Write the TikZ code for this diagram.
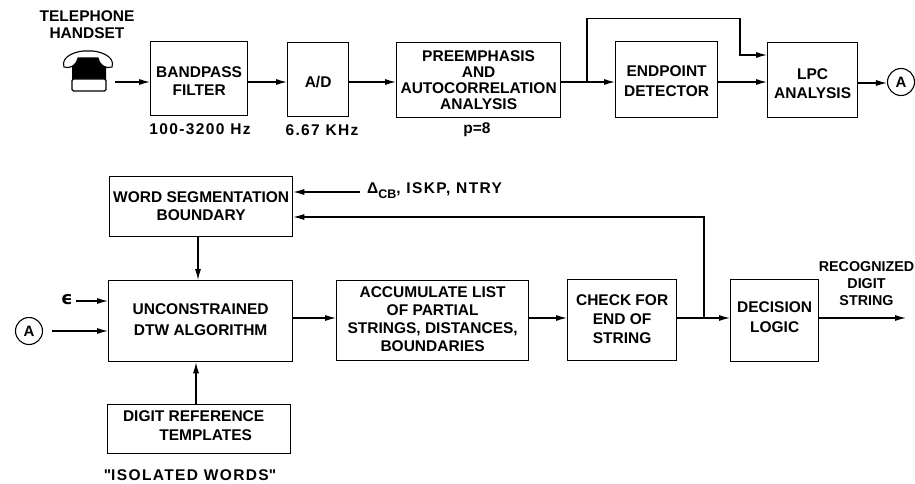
\documentclass[tikz,border=0pt]{standalone}
\usepackage{fontspec}
\setmainfont{Liberation Sans}
\newfontfamily\widef[LetterSpace=9]{Liberation Sans}
\newfontfamily\plainf{Liberation Sans}
\newfontfamily\symf{DejaVu Sans}
\usetikzlibrary{arrows.meta}
\tikzset{x=1pt,y=-1pt,
 box/.style={draw=black,line width=1.3pt,inner sep=0pt,anchor=north west},
 lab/.style={inner sep=0pt,align=center,font=\fontsize{15.5}{17}\selectfont\bfseries},
 circ/.style={draw=black,circle,line width=1.1pt,minimum size=27pt,inner sep=0pt,font=\fontsize{15}{17}\selectfont\bfseries},
 conn/.style={line width=1.1pt,-{Latex[length=11pt,width=6pt]}},
 plainconn/.style={line width=1.1pt}}
% name, x1, y1, x2, y2, leading, downward text offset, text
\newcommand{\blk}[8]{\node[box,minimum width=#4pt-#2pt,minimum height=#5pt-#3pt,font=\fontsize{15.5}{#6pt}\selectfont\bfseries] (#1) at (#2,#3) {\raisebox{\dimexpr-3.9pt-#7pt\relax}[0pt][0pt]{\begin{tabular}{@{}c@{}}#8\end{tabular}}};}
\begin{document}
\begin{tikzpicture}
\useasboundingbox (0,0) rectangle (915,484);
\blk{bp}{150}{41}{247}{115}{18}{4}{BANDPASS\\FILTER}
\blk{ad}{287}{42}{348}{116}{18}{4}{A/D}
\blk{pre}{396}{42}{560}{117}{16}{1.5}{PREEMPHASIS\\AND\\AUTOCORRELATION\\ANALYSIS}
\blk{ep}{615}{41}{717}{117}{20}{3}{ENDPOINT\\DETECTOR}
\blk{lpc}{767}{42}{857}{117}{19}{5}{LPC\\ANALYSIS}
\node[circ] (a1) at (901,82) {A};
\node[lab] (tel) at (87,25) {TELEPHONE\\HANDSET};
\node[lab] (l1) at (200,129) {\widef 100-3200 Hz};
\node[lab] (l2) at (322,130) {\widef 6.67 KHz};
\node[lab] (l3) at (477,130) {p=8};
% telephone
\fill (72,80) -- (72,66) -- (80,55) -- (98,55) -- (106,66) -- (106,80) -- cycle;
\draw[line width=1.2pt,fill=white,rounded corners=1.5pt] (72,79) rectangle (106,91);
\draw[line width=1.1pt,fill=white] (64,67) .. controls (60,56) and (78,50) .. (88,51) .. controls (98,50) and (116,56) .. (112,67) .. controls (106,69) and (100,66) .. (98,58) -- (78,58) .. controls (76,66) and (70,69) .. (64,67) -- cycle;
\coordinate (telr) at (115,82);
\draw[conn] (telr) -- (bp.west |- telr);
\draw[conn] (bp.east |- 0,82) -- (ad.west |- 0,82);
\draw[conn] (ad.east |- 0,82) -- (pre.west |- 0,82);
\draw[conn] (pre.east |- 0,82) -- (ep.west |- 0,82);
\coordinate (j1) at (587,82);
\coordinate (j2) at (740,55);
\draw[conn] (j1) -- (587,18.5) -- (740,18.5) -- (j2) -- (lpc.west |- j2);
\draw[conn] (ep.east |- 0,82) -- (lpc.west |- 0,82);
\draw[conn] (lpc.east |- 0,83) -- (a1.west |- 0,83);
% lower
\blk{ws}{109}{176}{292}{236}{18}{1}{WORD SEGMENTATION\\BOUNDARY}
\blk{un}{108}{280}{292}{361}{21}{-1}{UNCONSTRAINED\\DTW ALGORITHM}
\blk{dr}{107}{404}{290}{453}{19}{-2}{DIGIT REFERENCE\hspace*{11pt}\\\hspace*{13pt}TEMPLATES}
\blk{ac}{336}{280}{528}{360}{18}{0}{ACCUMULATE LIST\\OF PARTIAL\\STRINGS, DISTANCES,\\BOUNDARIES}
\blk{ch}{567}{279}{676}{360}{19}{0}{CHECK FOR\\END OF\\STRING}
\blk{de}{730}{279}{818}{361}{20}{-2}{DECISION\\LOGIC}
\node[circ] (a2) at (29,331) {A};
\node[lab] (eps) at (67,300) {\symf\fontsize{18}{18}\selectfont ϵ};
\node[lab,anchor=west] (par) at (367,191) {Δ\raisebox{-5pt}{\fontsize{12.5}{14}\selectfont CB}{\widef\bfseries , ISKP, NTRY}};
\node[lab] (iso) at (190,475) {{\plainf\bfseries "}{\widef ISOLATED WORDS}{\plainf\bfseries "}};
\node[lab,font=\fontsize{14.3}{17}\selectfont\bfseries] (rec) at (866.5,284) {RECOGNIZED\\DIGIT\\STRING};
\coordinate (out) at (906,318);
\draw[conn] (360,192) -- (ws.east |- 0,192);
\draw[conn] (198,0 |- ws.south) -- (198,0 |- un.north);
\draw[conn] (196,0 |- dr.north) -- (196,0 |- un.south);
\draw[conn] (76,301) -- (un.west |- 0,301);
\draw[conn] (52,331) -- (un.west |- a2);
\draw[conn] (un.east |- 0,318) -- (ac.west |- 0,318);
\draw[conn] (ac.east |- 0,318) -- (ch.west |- 0,318);
\draw[conn] (ch.east |- 0,318) -- (de.west |- 0,318);
\coordinate (fb) at (704,318);
\draw[conn] (fb) -- (704,217) -- (ws.east |- 0,217);
\draw[conn] (de.east |- out) -- (out);
\end{tikzpicture}
\end{document}
